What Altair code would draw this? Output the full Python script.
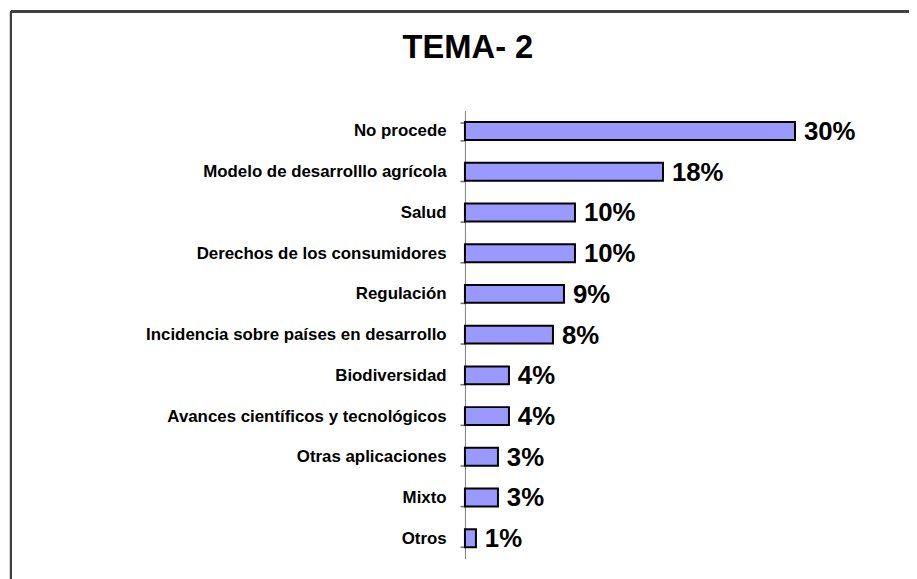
import altair as alt
import pandas as pd

categories = [
    "No procede",
    "Modelo de desarrolllo agrícola",
    "Salud",
    "Derechos de los consumidores",
    "Regulación",
    "Incidencia sobre países en desarrollo",
    "Biodiversidad",
    "Avances científicos y tecnológicos",
    "Otras aplicaciones",
    "Mixto",
    "Otros",
]
values = [30, 18, 10, 10, 9, 8, 4, 4, 3, 3, 1]
labels = [f"{v}%" for v in values]

df = pd.DataFrame({"tema": categories, "pct": values, "label": labels})

FONT = "Liberation Sans"

y_enc = alt.Y(
    "tema:N",
    sort=categories,
    title=None,
    scale=alt.Scale(paddingInner=0.56, paddingOuter=0.28),
    axis=alt.Axis(
        labelFont=FONT,
        labelFontSize=17,
        labelFontWeight="bold",
        labelColor="black",
        labelPadding=14,
        tickBand="extent",
        tickColor="#707070",
        tickSize=5,
        tickWidth=1.5,
        domainColor="#808080",
        labelLimit=500,
    ),
)
x_enc = alt.X("pct:Q", scale=alt.Scale(domain=[0, 40]), axis=None)

bars = alt.Chart(df).mark_bar(
    color="#9999FF", stroke="black", strokeWidth=2
).encode(x=x_enc, y=y_enc)

text = alt.Chart(df).mark_text(
    align="left", baseline="middle", dx=9, dy=1,
    font=FONT, fontSize=26, fontWeight="bold", color="black"
).encode(x=x_enc, y=alt.Y("tema:N", sort=categories), text="label:N")

frame_top = alt.Chart(df).mark_rule(color="#404040", strokeWidth=2).encode(
    x=alt.value(-458), x2=alt.value(600), y=alt.value(-100)
)
frame_left = alt.Chart(df).mark_rule(color="#404040", strokeWidth=2).encode(
    x=alt.value(-458), y=alt.value(-100), y2=alt.value(600)
)

chart = (
    alt.layer(bars, text, frame_top, frame_left)
    .properties(
        width=444,
        height=452,
        autosize=alt.AutoSizeParams(type="none"),
        padding={"left": 461, "top": 101, "right": 4, "bottom": 18},
        title=alt.TitleParams(
            "TEMA- 2",
            font=FONT,
            fontSize=33,
            fontWeight="bold",
            color="black",
            anchor="middle",
            dx=-219,
            offset=-81,
            baseline="alphabetic",
        ),
    )
    .configure(background="white")
    .configure_view(strokeWidth=0, stroke="transparent")
)

chart.save("out.html", embed_options={"renderer": "svg", "actions": False})
